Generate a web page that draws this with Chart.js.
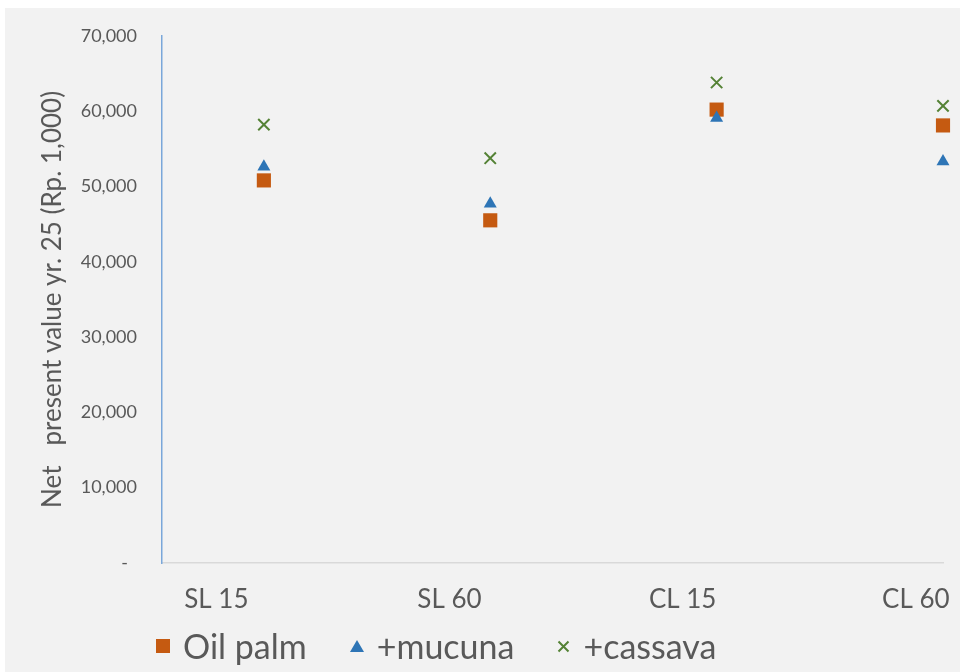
<!DOCTYPE html>
<html>
<head>
<meta charset="utf-8">
<script src="https://cdn.jsdelivr.net/npm/chart.js@4/dist/chart.umd.min.js"></script>
<style>
  html, body { margin: 0; padding: 0; background: #ffffff; }
  #wrap { position: relative; width: 960px; height: 672px; overflow: hidden; }
  #panel { position: absolute; left: 5px; top: 8px; width: 955px; height: 664px; background: #f2f2f2; }
  #c { position: absolute; left: 0; top: 0; }
  #legend { position: absolute; left: 156px; top: 626px; display: flex; align-items: center;
            font-family: Lato, sans-serif; font-size: 34px; line-height: 40px; color: #595959; }
  .item { display: flex; align-items: center; margin-right: 43px; }
  .item svg { margin-right: 13px; }
</style>
</head>
<body>
<div id="wrap">
  <div id="panel"></div>
  <canvas id="c" width="960" height="672"></canvas>
  <div id="legend"></div>
</div>
<script>
// Treatments along the x axis
const categories = ['SL 15', 'SL 60', 'CL 15', 'CL 60'];

// Net present value at year 25, Rp. 1,000
const oilPalm = [50800, 45500, 60200, 58100];
const mucuna  = [52600, 47700, 59100, 53300];
const cassava = [58200, 53750, 63800, 60700];

// Value axis ticks
const yTicks = [0, 10000, 20000, 30000, 40000, 50000, 60000, 70000];

const seriesNames = ['Oil palm', '+mucuna', '+cassava'];

const toPoints = vals => vals.map((v, i) => ({ x: i + 1, y: v }));
const fmt = v => v === 0 ? '-\u2002' : v.toLocaleString('en-US');

const FONT = 'Lato, sans-serif';
const TEXT = '#595959';

const chart = new Chart(document.getElementById('c'), {
  type: 'scatter',
  data: {
    datasets: [
      { label: seriesNames[0], data: toPoints(oilPalm), pointStyle: 'rect', pointRadius: 10,
        backgroundColor: '#c55a11', borderColor: '#c55a11', borderWidth: 0, order: 3, clip: false },
      { label: seriesNames[1], data: toPoints(mucuna), pointStyle: 'triangle', pointRadius: 7.5,
        backgroundColor: '#2e75b6', borderColor: '#2e75b6', borderWidth: 0, order: 2, clip: false },
      { label: seriesNames[2], data: toPoints(cassava), pointStyle: 'crossRot', pointRadius: 8,
        backgroundColor: '#548235', borderColor: '#548235', borderWidth: 2, order: 1, clip: false }
    ]
  },
  options: {
    responsive: false,
    animation: false,
    layout: { padding: { top: 35, right: 17, bottom: 57, left: 0 } },
    plugins: { legend: { display: false }, tooltip: { enabled: false } },
    elements: { point: { hoverRadius: 0 } },
    scales: {
      x: {
        type: 'linear',
        min: 0.55,
        max: 4.0,
        grid: { display: false, drawTicks: false },
        border: { display: true, color: '#d9d9d9', width: 1.5 },
        afterBuildTicks: s => {
          s.ticks = categories.map((c, i) => ({ value: 0.79 + i * 1.03 }));
        },
        afterFit: s => { s.height = 52; s.paddingLeft = 0; s.paddingRight = 0; },
        ticks: {
          padding: 21,
          autoSkip: false,
          maxRotation: 0,
          color: TEXT,
          font: { family: FONT, size: 26 },
          callback: (v, i) => categories[i]
        }
      },
      y: {
        min: 0,
        max: 70000,
        grid: { display: false, drawTicks: false },
        border: { display: true, color: '#7aa7da', width: 1.5 },
        afterBuildTicks: s => { s.ticks = yTicks.map(v => ({ value: v })); },
        afterFit: s => { s.width = 162; },
        ticks: {
          padding: 25,
          color: TEXT,
          font: { family: FONT, size: 18 },
          callback: v => fmt(v)
        },
        title: {
          display: true,
          text: 'Net   present value yr. 25 (Rp. 1,000)',
          color: TEXT,
          font: { family: FONT, size: 26 },
          padding: { top: 37, bottom: 10 }
        }
      }
    }
  }
});

// Legend built from the chart's own datasets
const markers = {
  rect: c => `<svg width="14" height="14"><rect x="0" y="0" width="14" height="14" fill="${c}"/></svg>`,
  triangle: c => `<svg width="14" height="12"><polygon points="7,0 14,12 0,12" fill="${c}"/></svg>`,
  crossRot: c => `<svg width="13" height="13"><path d="M1.5 1.5 L11.5 11.5 M11.5 1.5 L1.5 11.5" stroke="${c}" stroke-width="2"/></svg>`
};
document.getElementById('legend').innerHTML = chart.data.datasets.map(ds =>
  `<div class="item">${markers[ds.pointStyle](ds.backgroundColor)}<span>${ds.label}</span></div>`
).join('');
</script>
</body>
</html>
